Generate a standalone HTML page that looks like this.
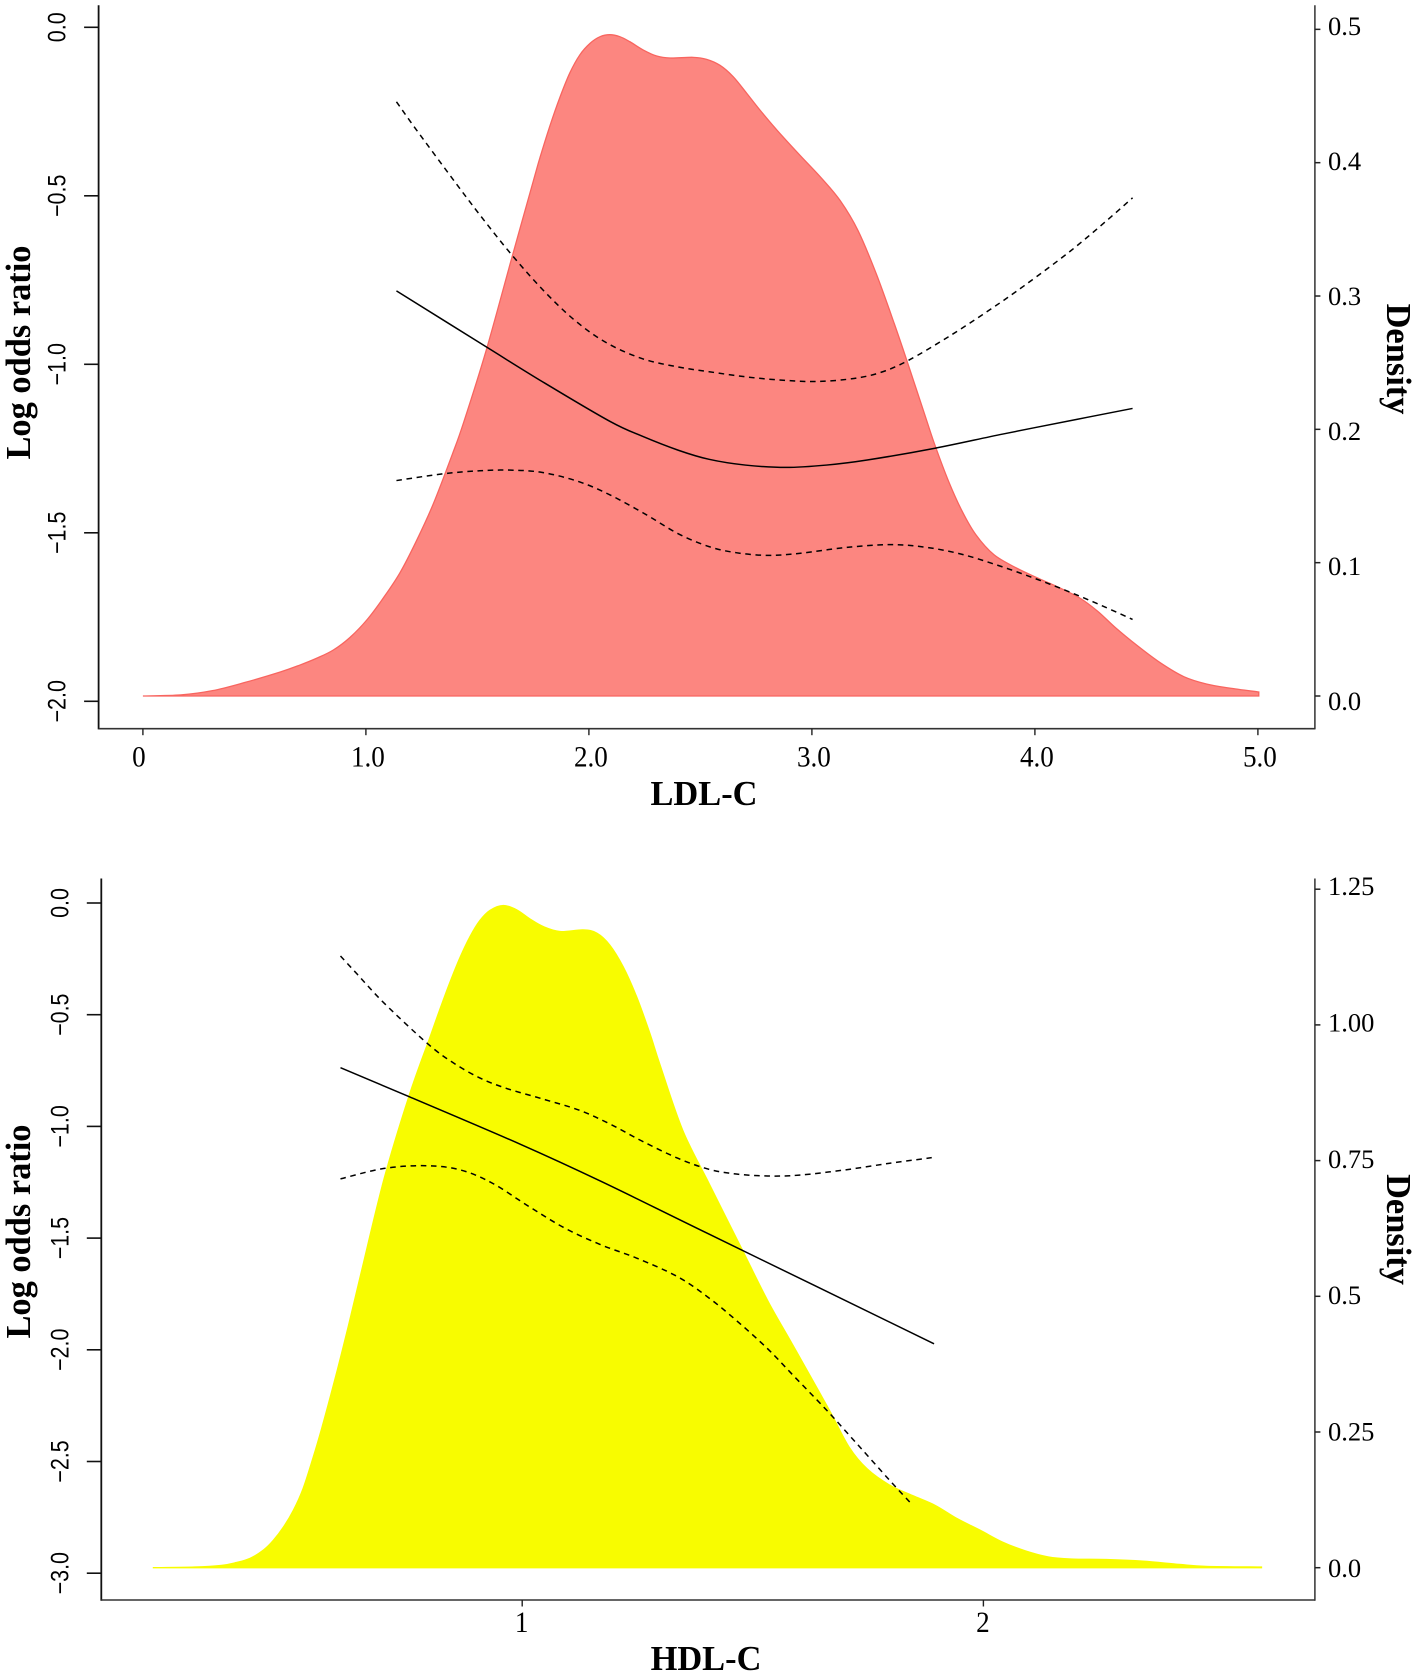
<!DOCTYPE html>
<html lang="en">
<head>
<meta charset="utf-8">
<title>LDL-C and HDL-C log odds ratio with density</title>
<style>
html,body{margin:0;padding:0;background:#fff;}
svg{display:block;}
.title{font-family:"Liberation Serif",serif;font-weight:bold;font-size:34.4px;fill:#000;text-anchor:middle;}
</style>
</head>
<body>
<svg id="chart" xmlns="http://www.w3.org/2000/svg" width="1418" height="1677" viewBox="0 0 1418 1677">
  <rect x="0" y="0" width="1418" height="1677" fill="#ffffff"/>
  <g id="ldl-panel"></g>
  <g id="hdl-panel"></g>
  <text class="title" x="704" y="805">LDL-C</text>
  <text class="title" transform="translate(30,352.5) rotate(-90)">Log odds ratio</text>
  <text class="title" transform="translate(1387,359) rotate(90)">Density</text>
  <text class="title" x="706" y="1670">HDL-C</text>
  <text class="title" transform="translate(30,1231.5) rotate(-90)">Log odds ratio</text>
  <text class="title" transform="translate(1387,1229.5) rotate(90)">Density</text>
</svg>
<script>
// ---------- LDL-C panel data ----------
const ldlXTicks = [0, 1, 2, 3, 4, 5];
const ldlXLabels = ["0", "1.0", "2.0", "3.0", "4.0", "5.0"];
const ldlLogTicks = [0, -0.5, -1, -1.5, -2];
const ldlLogLabels = ["0.0", "\u22120.5", "\u22121.0", "\u22121.5", "\u22122.0"];
const ldlDensityTicks = [0, 0.1, 0.2, 0.3, 0.4, 0.5];
const ldlDensityLabels = ["0.0", "0.1", "0.2", "0.3", "0.4", "0.5"];

const ldlDensityX = [0,0.17,0.312,0.454,0.616,0.704,0.779,0.854,0.929,1.004,1.078,1.153,1.227,1.302,1.387,1.438,1.539,1.65,1.752,1.781,1.826,1.87,1.915,1.96,2.005,2.05,2.094,2.139,2.184,2.244,2.304,2.364,2.468,2.528,2.588,2.647,2.708,2.767,2.843,2.944,3.045,3.127,3.207,3.289,3.37,3.431,3.512,3.552,3.613,3.674,3.735,3.816,3.917,4.019,4.1,4.201,4.282,4.363,4.465,4.566,4.668,4.769,4.87,5.004];
const ldlDensityY = [0,0.0008,0.004,0.01,0.018,0.0232,0.0283,0.0345,0.044,0.057,0.0735,0.0925,0.1165,0.144,0.181,0.205,0.259,0.326,0.387,0.404,0.428,0.449,0.4675,0.481,0.4895,0.4945,0.496,0.4945,0.4907,0.4845,0.48,0.4785,0.479,0.4775,0.473,0.4645,0.452,0.4395,0.4245,0.406,0.388,0.3715,0.349,0.3165,0.279,0.249,0.208,0.188,0.161,0.1385,0.121,0.106,0.096,0.088,0.082,0.0735,0.0635,0.051,0.037,0.0245,0.0145,0.009,0.006,0.003];

const ldlFitX = [1.137,1.539,1.8,2.096,2.238,2.401,2.539,2.701,2.883,3.066,3.248,3.552,3.856,4.191,4.438];
const ldlFitY = [-0.782,-0.948,-1.055,-1.17,-1.213,-1.255,-1.282,-1.299,-1.306,-1.299,-1.284,-1.249,-1.207,-1.163,-1.131];

const ldlUpperX = [1.137,1.225,1.387,1.509,1.65,1.792,1.934,2.076,2.238,2.401,2.539,2.701,2.863,3.025,3.188,3.309,3.431,3.613,3.796,3.958,4.161,4.323,4.438];
const ldlUpperY = [-0.221,-0.303,-0.448,-0.555,-0.672,-0.778,-0.868,-0.935,-0.983,-1.008,-1.022,-1.037,-1.047,-1.051,-1.042,-1.024,-0.989,-0.918,-0.839,-0.764,-0.663,-0.573,-0.506];

const ldlLowerX = [1.137,1.346,1.509,1.65,1.792,1.954,2.096,2.259,2.401,2.539,2.66,2.802,2.944,3.147,3.35,3.512,3.674,3.836,3.998,4.161,4.303,4.438];
const ldlLowerY = [-1.345,-1.325,-1.316,-1.314,-1.321,-1.348,-1.388,-1.447,-1.503,-1.541,-1.559,-1.567,-1.561,-1.544,-1.535,-1.543,-1.564,-1.597,-1.635,-1.677,-1.717,-1.757];

// ---------- HDL-C panel data ----------
const hdlXTicks = [1, 2];
const hdlXLabels = ["1", "2"];
const hdlLogTicks = [0, -0.5, -1, -1.5, -2, -2.5, -3];
const hdlLogLabels = ["0.0", "\u22120.5", "\u22121.0", "\u22121.5", "\u22122.0", "\u22122.5", "\u22123.0"];
const hdlDensityTicks = [0, 0.25, 0.5, 0.75, 1, 1.25];
const hdlDensityLabels = ["0.0", "0.25", "0.5", "0.75", "1.00", "1.25"];

const hdlDensityX = [0.199,0.289,0.348,0.38,0.41,0.439,0.46,0.482,0.504,0.525,0.547,0.565,0.583,0.603,0.623,0.652,0.701,0.755,0.799,0.822,0.843,0.865,0.887,0.908,0.93,0.959,0.988,1.017,1.046,1.082,1.132,1.162,1.19,1.219,1.248,1.277,1.299,1.348,1.405,1.474,1.532,1.581,1.63,1.67,1.709,1.748,1.797,1.846,1.895,1.944,1.993,2.042,2.091,2.14,2.19,2.268,2.346,2.425,2.483,2.603];
const hdlDensityY = [0,0.0012,0.0043,0.0095,0.0173,0.0326,0.05,0.0745,0.106,0.146,0.204,0.256,0.312,0.377,0.445,0.548,0.718,0.87,0.975,1.03,1.078,1.124,1.163,1.192,1.211,1.22,1.212,1.195,1.181,1.172,1.175,1.169,1.147,1.107,1.052,0.984,0.926,0.806,0.708,0.591,0.4925,0.419,0.345,0.284,0.222,0.182,0.152,0.133,0.115,0.09,0.069,0.047,0.031,0.02,0.016,0.015,0.012,0.006,0.0025,0.0012];

const hdlFitX = [0.606,0.755,0.995,1.172,1.405,1.893];
const hdlFitY = [-0.737,-0.867,-1.079,-1.247,-1.482,-1.973];

const hdlUpperX = [0.606,0.642,0.701,0.794,0.848,0.907,0.966,1.044,1.123,1.191,1.26,1.338,1.405,1.464,1.532,1.601,1.699,1.797,1.888];
const hdlUpperY = [-0.237,-0.318,-0.449,-0.628,-0.712,-0.782,-0.83,-0.877,-0.927,-0.99,-1.066,-1.143,-1.192,-1.213,-1.222,-1.218,-1.195,-1.165,-1.14];

const hdlLowerX = [0.606,0.701,0.794,0.868,0.936,1.015,1.093,1.172,1.25,1.338,1.405,1.464,1.532,1.591,1.66,1.729,1.797,1.845];
const hdlLowerY = [-1.235,-1.188,-1.176,-1.196,-1.255,-1.359,-1.456,-1.531,-1.591,-1.674,-1.768,-1.868,-1.995,-2.122,-2.27,-2.428,-2.585,-2.692];

// ---------- drawing ----------
const NS = "http://www.w3.org/2000/svg";

function makeEl(parent, tag, name) {
  const el = document.createElementNS(NS, tag);
  
  
  parent.appendChild(el);
  return el;
}

function smoothPath(pts) {
  let d = "M" + pts[0][0].toFixed(2) + " " + pts[0][1].toFixed(2);
  for (let i = 0; i < pts.length - 1; i++) {
    const p0 = pts[Math.max(0, i - 1)];
    const p1 = pts[i];
    const p2 = pts[i + 1];
    const p3 = pts[Math.min(pts.length - 1, i + 2)];
    const c1x = p1[0] + (p2[0] - p0[0]) / 6;
    const c1y = p1[1] + (p2[1] - p0[1]) / 6;
    const c2x = p2[0] - (p3[0] - p1[0]) / 6;
    const c2y = p2[1] - (p3[1] - p1[1]) / 6;
    d += "C" + c1x.toFixed(2) + " " + c1y.toFixed(2) + " " + c2x.toFixed(2) + " " + c2y.toFixed(2) + " " + p2[0].toFixed(2) + " " + p2[1].toFixed(2);
  }
  return d;
}

function toPoints(xs, ys, sx, sy) {
  return xs.map(function (v, i) { return [sx(v), sy(ys[i])]; });
}

function axisLine(g, name, x1, y1, x2, y2, color, width) {
  const el = makeEl(g, "line", name);
  el.setAttribute("x1", x1);
  el.setAttribute("y1", y1);
  el.setAttribute("x2", x2);
  el.setAttribute("y2", y2);
  el.setAttribute("stroke", color);
  el.setAttribute("stroke-width", width);
}

function label(g, name, transform, text, family, size, anchor) {
  const el = makeEl(g, "text", name);
  el.setAttribute("transform", transform);
  el.setAttribute("font-family", family);
  el.setAttribute("font-size", size);
  el.setAttribute("text-anchor", anchor);
  el.setAttribute("fill", "#000");
  el.textContent = text;
}

function drawPanel(cfg) {
  const g = document.getElementById(cfg.id);
  const serif = '"Liberation Serif", serif';
  const sans = '"Liberation Sans", sans-serif';

  // density area
  const densPts = toPoints(cfg.densX, cfg.densY, cfg.x, cfg.yR);
  const first = densPts[0];
  const last = densPts[densPts.length - 1];
  const area = makeEl(g, "path", cfg.key + "-density-area");
  area.setAttribute("d", smoothPath(densPts) + "L" + last[0].toFixed(2) + " " + cfg.yR(0).toFixed(2) + "L" + first[0].toFixed(2) + " " + cfg.yR(0).toFixed(2) + "Z");
  area.setAttribute("fill", cfg.fill);
  area.setAttribute("stroke", cfg.edge);
  area.setAttribute("stroke-width", "1.3");

  // fit and confidence lines
  const lines = [
    [cfg.fitX, cfg.fitY, "fit-line", null],
    [cfg.upX, cfg.upY, "upper-ci-line", "5.6 4.6"],
    [cfg.loX, cfg.loY, "lower-ci-line", "5.6 4.6"]
  ];
  lines.forEach(function (s) {
    const p = makeEl(g, "path", cfg.key + "-" + s[2]);
    p.setAttribute("d", smoothPath(toPoints(s[0], s[1], cfg.x, cfg.yL)));
    p.setAttribute("fill", "none");
    p.setAttribute("stroke", "#000");
    p.setAttribute("stroke-width", "1.5");
    if (s[3]) p.setAttribute("stroke-dasharray", s[3]);
  });

  // axes
  axisLine(g, cfg.key + "-left-axis", cfg.left, cfg.top, cfg.left, cfg.bottom + 0.7, "#111", 1.8);
  axisLine(g, cfg.key + "-bottom-axis", cfg.left, cfg.bottom, cfg.right, cfg.bottom, "#333", 1.6);
  axisLine(g, cfg.key + "-right-axis", cfg.right, cfg.top, cfg.right, cfg.bottom + 0.7, "#333", 1.5);

  // x ticks
  cfg.xTicks.forEach(function (v, i) {
    const px = cfg.x(v);
    axisLine(g, cfg.key + "-x-tick", px, cfg.bottom, px, cfg.bottom + 6.5, "#222", 1.4);
    const shift = v === 0 ? -4 : (cfg.key === "ldl" ? 2 : -0.5);
    label(g, cfg.key + "-x-tick-label", "translate(" + (px + shift) + "," + cfg.xLabelY + ") scale(0.92,1)", cfg.xLabels[i], serif, 29.5, "middle");
  });

  // left ticks
  cfg.logTicks.forEach(function (v, i) {
    const py = cfg.yL(v);
    axisLine(g, cfg.key + "-left-tick", cfg.left - 14.5, py, cfg.left, py, "#111", 1.6);
    label(g, cfg.key + "-left-tick-label", "translate(" + cfg.leftLabelX + "," + py + ") rotate(-90) scale(0.86,1)", cfg.logLabels[i], sans, 25, "middle");
  });

  // right ticks
  cfg.densTicks.forEach(function (v, i) {
    const py = cfg.yR(v);
    axisLine(g, cfg.key + "-right-tick", cfg.right, py, cfg.right + 5.5, py, "#222", 1.5);
    label(g, cfg.key + "-right-tick-label", "translate(1328," + cfg.rightLabelY(v) + ")", cfg.densLabels[i], serif, 26.5, "start");
  });
}

drawPanel({
  id: "ldl-panel", key: "ldl",
  left: 98.6, right: 1314.9, top: 5.3, bottom: 728.7,
  x: function (v) { return 142.9 + 223 * v; },
  yL: function (v) { return 27.3 - 337 * v; },
  yR: function (v) { return 696 - 1333.3 * v; },
  rightLabelY: function (v) { return 710 - 1350 * v; },
  xLabelY: 766.7, leftLabelX: 65.6,
  fill: "#FC8680", edge: "#F8655F",
  densX: ldlDensityX, densY: ldlDensityY,
  fitX: ldlFitX, fitY: ldlFitY,
  upX: ldlUpperX, upY: ldlUpperY,
  loX: ldlLowerX, loY: ldlLowerY,
  xTicks: ldlXTicks, xLabels: ldlXLabels,
  logTicks: ldlLogTicks, logLabels: ldlLogLabels,
  densTicks: ldlDensityTicks, densLabels: ldlDensityLabels
});

drawPanel({
  id: "hdl-panel", key: "hdl",
  left: 101.3, right: 1314.9, top: 878.5, bottom: 1600,
  x: function (v) { return 522.2 + 461.2 * (v - 1); },
  yL: function (v) { return 903 - 223.4 * v; },
  yR: function (v) { return 1567.7 - 542.8 * v; },
  rightLabelY: function (v) { return 1577 - 545.6 * v; },
  xLabelY: 1632, leftLabelX: 68.7,
  fill: "#F8FC00", edge: "#F8FC00",
  densX: hdlDensityX, densY: hdlDensityY,
  fitX: hdlFitX, fitY: hdlFitY,
  upX: hdlUpperX, upY: hdlUpperY,
  loX: hdlLowerX, loY: hdlLowerY,
  xTicks: hdlXTicks, xLabels: hdlXLabels,
  logTicks: hdlLogTicks, logLabels: hdlLogLabels,
  densTicks: hdlDensityTicks, densLabels: hdlDensityLabels
});
</script>
</body>
</html>
